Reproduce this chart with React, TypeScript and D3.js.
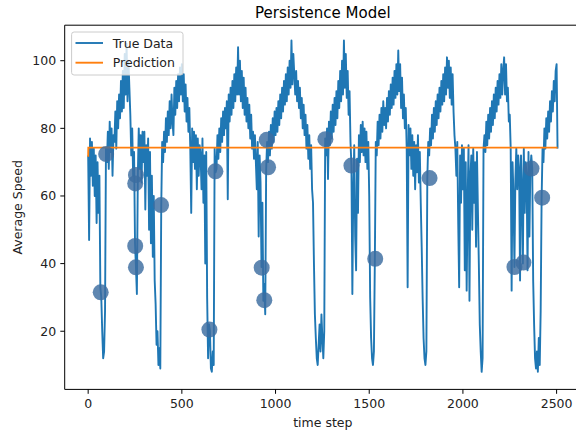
import React from 'react';
import * as d3 from 'd3';

const TIME_STEP = 5;
const trueSpeed: number[] = [
  72, 47, 77, 66, 76, 63, 74, 60, 72, 52, 70, 55, 66, 33, 30, 20, 12, 14, 26, 74,
  70, 79, 68, 82, 73, 80, 66, 78, 76, 85, 74, 88, 80, 90, 83, 94, 85, 97, 86, 102,
  90, 105, 88, 100, 92, 84, 72, 80, 66, 73, 46, 39, 31, 66, 80, 68, 78, 64, 79, 70,
  79, 56, 75, 66, 77, 50, 73, 46, 66, 42, 60, 35, 28, 16, 20, 10, 15, 9, 57, 76,
  70, 79, 73, 83, 76, 85, 78, 88, 80, 90, 82, 78, 92, 84, 94, 86, 96, 88, 98, 90,
  99, 88, 96, 85, 93, 82, 89, 79, 86, 74, 55, 80, 70, 79, 68, 78, 62, 77, 66, 75,
  72, 62, 77, 58, 72, 40, 73, 30, 12, 22, 20, 9, 8, 14, 10, 74, 67, 68, 78, 71,
  80, 73, 83, 76, 85, 78, 86, 80, 88, 59, 90, 82, 92, 84, 94, 86, 96, 88, 98, 90,
  104, 90, 100, 88, 97, 86, 95, 84, 92, 82, 89, 80, 87, 77, 84, 74, 79, 71, 78, 70,
  62, 76, 48, 72, 64, 39, 58, 29, 34, 25, 68, 76, 70, 79, 72, 81, 74, 83, 76, 85,
  78, 86, 79, 88, 81, 90, 83, 92, 85, 94, 87, 96, 88, 98, 90, 100, 92, 106, 93, 102,
  96, 90, 97, 88, 94, 86, 92, 83, 89, 80, 87, 78, 84, 74, 81, 71, 78, 68, 75, 62,
  58, 40, 25, 18, 12, 10, 16, 22, 14, 25, 18, 12, 20, 77, 72, 80, 65, 82, 75, 85,
  77, 87, 79, 89, 81, 91, 83, 94, 86, 97, 88, 100, 90, 106, 92, 102, 89, 97, 84, 91,
  76, 69, 31, 62, 75, 48, 38, 71, 55, 78, 70, 81, 73, 82, 72, 80, 70, 79, 68, 76,
  60, 30, 18, 12, 10, 14, 41, 76, 72, 82, 75, 84, 77, 86, 79, 88, 81, 86, 80, 89,
  82, 91, 84, 93, 86, 95, 87, 97, 89, 99, 90, 103, 91, 99, 86, 95, 83, 90, 80, 86,
  74, 33, 81, 72, 80, 68, 78, 66, 76, 62, 75, 67, 78, 64, 73, 58, 45, 30, 18, 12,
  10, 14, 65, 76, 72, 80, 75, 84, 77, 86, 79, 88, 81, 90, 83, 92, 85, 94, 87, 96,
  88, 98, 90, 101, 92, 100, 89, 98, 87, 96, 85, 78, 74, 66, 76, 52, 33, 72, 58, 75,
  62, 74, 38, 70, 32, 58, 75, 29, 66, 72, 50, 74, 58, 70, 45, 73, 56, 40, 22, 14,
  8, 12, 74, 78, 73, 82, 75, 84, 77, 86, 79, 88, 81, 90, 83, 92, 85, 94, 87, 96,
  89, 99, 90, 97, 101, 90, 99, 88, 92, 82, 84, 74, 32, 70, 60, 39, 65, 74, 62, 72,
  68, 35, 72, 62, 40, 74, 55, 70, 66, 38, 73, 48, 68, 72, 68, 35, 22, 12, 9, 14,
  8, 18, 10, 26, 59, 74, 70, 80, 74, 83, 77, 85, 79, 88, 82, 91, 85, 94, 88, 97,
  99, 74,
];

const predictionT = [0, 1, 2505];
const predictionV = [71.6, 74.3, 74.3];

const anomalyT = [67, 96, 255, 251, 251, 255, 389, 647, 679, 926, 940, 960, 953, 1266, 1405, 1532, 1822, 2275, 2323, 2366, 2423];
const anomalyV = [31.5, 72.4, 66.2, 63.7, 45.2, 38.9, 57.3, 20.5, 67.3, 38.8, 29.2, 68.5, 76.6, 76.8, 69.0, 41.4, 65.3, 39.0, 40.3, 68.1, 59.5];

const xTicks = [0, 500, 1000, 1500, 2000, 2500];
const yTicks = [20, 40, 60, 80, 100];
const seriesNames = ['True Data', 'Prediction'];
const seriesColors = ['#1f77b4', '#ff7f0e'];

const FONT = "'DejaVu Sans', sans-serif";

export default function App() {
  const W = 576;
  const H = 433;
  const left = 64.7;
  const right = 581;
  const top = 25.2;
  const bottom = 389.4;

  const x = d3.scaleLinear().domain([-125.25, 2630.25]).range([left, right]);
  const y = d3.scaleLinear().domain([2.8, 110.5]).range([bottom, top]);

  const line = d3
    .line<[number, number]>()
    .x((d) => x(d[0]))
    .y((d) => y(d[1]));

  const truePts: [number, number][] = trueSpeed.map((v, i) => [i * TIME_STEP, v]);
  const predPts: [number, number][] = predictionT.map((t, i) => [t, predictionV[i]]);

  const tickLen = 4.4;

  return (
    <svg
      width={W}
      height={H}
      viewBox={`0 0 ${W} ${H}`}
      style={{ position: 'fixed', left: 0, top: 0, background: '#fff' }}
      fontFamily={FONT}
    >
      <rect x={0} y={0} width={W} height={H} fill="#fff" />
      <text x={(left + right) / 2} y={17.5} textAnchor="middle" fontSize={15} fill="#000">
        Persistence Model
      </text>

      {/* data */}
      <path d={line(truePts) || ''} fill="none" stroke={seriesColors[0]} strokeWidth={1.9} strokeLinejoin="round" />
      <path d={line(predPts) || ''} fill="none" stroke={seriesColors[1]} strokeWidth={1.9} />
      {anomalyT.map((t, i) => (
        <circle key={i} cx={x(t)} cy={y(anomalyV[i])} r={8} fill="#3c6ca0" fillOpacity={0.82} />
      ))}

      {/* spines */}
      <g stroke="#000" strokeWidth={1} fill="none">
        <line x1={left} y1={top} x2={left} y2={bottom} />
        <line x1={left} y1={bottom} x2={right} y2={bottom} />
        <line x1={left} y1={top} x2={right} y2={top} />
        <line x1={right} y1={top} x2={right} y2={bottom} />
      </g>

      {/* x ticks */}
      {xTicks.map((t) => (
        <g key={t}>
          <line x1={x(t)} x2={x(t)} y1={bottom} y2={bottom + tickLen} stroke="#000" strokeWidth={1} />
          <text x={x(t)} y={bottom + 19} textAnchor="middle" fontSize={12.5} fill="#222">
            {t}
          </text>
        </g>
      ))}
      <text x={(left + right) / 2} y={427} textAnchor="middle" fontSize={12.5} fill="#222">
        time step
      </text>

      {/* y ticks */}
      {yTicks.map((t) => (
        <g key={t}>
          <line x1={left - tickLen} x2={left} y1={y(t)} y2={y(t)} stroke="#000" strokeWidth={1} />
          <text x={left - 8.5} y={y(t) + 4.5} textAnchor="end" fontSize={12.5} fill="#222">
            {t}
          </text>
        </g>
      ))}
      <text
        transform={`translate(21.5, ${(top + bottom) / 2}) rotate(-90)`}
        textAnchor="middle"
        fontSize={12.5}
        fill="#222"
      >
        Average Speed
      </text>

      {/* legend */}
      <rect x={71.6} y={32} width={111.4} height={43} rx={2.5} fill="#fff" fillOpacity={0.8} stroke="#ccc" strokeWidth={1} />
      {seriesNames.map((name, i) => (
        <g key={name}>
          <line x1={75.5} x2={103} y1={43 + i * 19.7} y2={43 + i * 19.7} stroke={seriesColors[i]} strokeWidth={1.9} />
          <text x={112.8} y={43 + i * 19.7 + 4.5} fontSize={12.5} fill="#222">
            {name}
          </text>
        </g>
      ))}
    </svg>
  );
}
